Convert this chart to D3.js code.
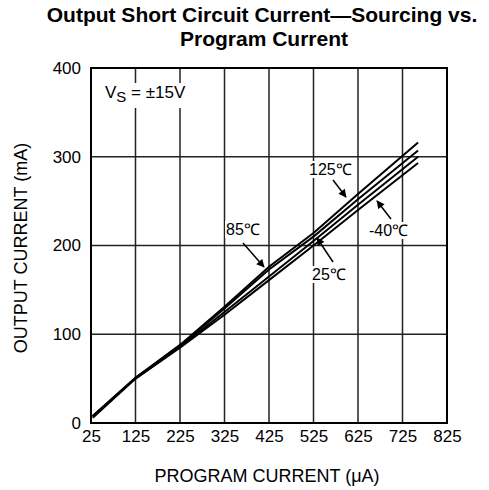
<!DOCTYPE html>
<html>
<head>
<meta charset="utf-8">
<script src="https://cdn.jsdelivr.net/npm/d3@7"></script>
<style>
  body { margin: 0; background: #fff; }
  svg { font-family: "Liberation Sans", Arial, sans-serif; }
</style>
</head>
<body>
<svg width="489" height="490"></svg>
<script>
// Output short circuit current vs program current

var programCurrent = [29, 125, 225, 325, 425, 525, 625, 760]
var cur125 = [8, 51, 88, 131, 176, 214, 258, 316]
var cur85 = [8, 51, 87, 129, 173, 210, 252, 307]
var cur25 = [7, 50, 86, 125, 165, 205, 246, 300]
var curM40 = [6, 50, 85, 122, 161, 200, 240, 293]

var xTicks = [25, 125, 225, 325, 425, 525, 625, 725, 825]
var yTicks = [0, 100, 200, 300, 400]

var series = [cur125, cur85, cur25, curM40]

var svg = d3.select('svg')
var plotL = 91, plotR = 447, plotT = 68, plotB = 423

var x = d3.scaleLinear().domain([25, 825]).range([plotL, plotR])
var y = d3.scaleLinear().domain([0, 400]).range([plotB, plotT])

// title, two lines
svg.append('text')
	.attr('x', 262)
	.attr('y', 22)
	.attr('text-anchor', 'middle')
	.attr('font-weight', 'bold')
	.attr('font-size', 21)
	.text('Output Short Circuit Current\u2014Sourcing vs.')
svg.append('text')
	.attr('x', 264)
	.attr('y', 46)
	.attr('text-anchor', 'middle')
	.attr('font-weight', 'bold')
	.attr('font-size', 21)
	.text('Program Current')

// grid
var grid = svg.append('g')
grid.selectAll('.vx')
	.data(xTicks)
	.enter()
	.append('line')
	.attr('x1', function(d) { return x(d) })
	.attr('x2', function(d) { return x(d) })
	.attr('y1', plotT)
	.attr('y2', plotB)
	.attr('stroke', '#222')
	.attr('stroke-width', 1.5)
grid.selectAll('.hy')
	.data(yTicks)
	.enter()
	.append('line')
	.attr('x1', plotL)
	.attr('x2', plotR)
	.attr('y1', function(d) { return y(d) })
	.attr('y2', function(d) { return y(d) })
	.attr('stroke', '#222')
	.attr('stroke-width', 1.5)

// axes (labels only)
var xAxis = d3.axisBottom(x).tickValues(xTicks).tickSize(0).tickPadding(7)
svg.append('g')
	.attr('transform', 'translate(0,' + plotB + ')')
	.call(xAxis)
	.call(function(g) { g.select('.domain').remove() })
	.selectAll('text')
	.attr('font-size', 17)
	.attr('font-family', '"Liberation Sans", Arial, sans-serif')
	.attr('fill', '#000')

var yAxis = d3.axisLeft(y).tickValues(yTicks).tickSize(0).tickPadding(10)
svg.append('g')
	.attr('transform', 'translate(' + plotL + ',0)')
	.call(yAxis)
	.call(function(g) { g.select('.domain').remove() })
	.selectAll('text')
	.attr('font-size', 17)
	.attr('font-family', '"Liberation Sans", Arial, sans-serif')
	.attr('fill', '#000')

// axis titles
svg.append('text')
	.attr('x', 267)
	.attr('y', 482)
	.attr('text-anchor', 'middle')
	.attr('font-size', 18)
	.text('PROGRAM CURRENT (\u03bcA)')

svg.append('text')
	.attr('transform', 'translate(27,248) rotate(-90)')
	.attr('text-anchor', 'middle')
	.attr('font-size', 18)
	.text('OUTPUT CURRENT (mA)')

// curves
var line = d3.line()
	.x(function(d, i) { return x(programCurrent[i]) })
	.y(function(d) { return y(d) })

svg.append('g')
	.selectAll('path')
	.data(series)
	.enter()
	.append('path')
	.attr('d', line)
	.attr('fill', 'none')
	.attr('stroke', '#000')
	.attr('stroke-width', 2)

// frame
svg.append('rect')
	.attr('x', plotL)
	.attr('y', plotT)
	.attr('width', plotR - plotL)
	.attr('height', plotB - plotT)
	.attr('fill', 'none')
	.attr('stroke', '#000')
	.attr('stroke-width', 2)

// labels with arrows
var labels = [
	{text: '125\u2103', x: 309, y: 175, ax1: 333, ay1: 180, ax2: 346, ay2: 197},
	{text: '85\u2103', x: 226, y: 235, ax1: 243, ay1: 243, ax2: 264, ay2: 267},
	{text: '25\u2103', x: 312, y: 280, ax1: 333, ay1: 262, ax2: 317, ay2: 238},
	{text: '-40\u2103', x: 369, y: 236, ax1: 391, ay1: 219, ax2: 377, ay2: 201}
]

svg.append('defs').append('marker')
	.attr('id', 'arrow')
	.attr('viewBox', '0 0 10 10')
	.attr('refX', 9)
	.attr('refY', 5)
	.attr('markerWidth', 9)
	.attr('markerHeight', 8)
	.attr('markerUnits', 'userSpaceOnUse')
	.attr('orient', 'auto')
	.append('path')
	.attr('d', 'M0,0 L10,5 L0,10 z')
	.attr('fill', '#000')

var lab = svg.append('g').selectAll('g')
	.data(labels)
	.enter()
	.append('g')

lab.append('line')
	.attr('x1', function(d) { return d.ax1 })
	.attr('y1', function(d) { return d.ay1 })
	.attr('x2', function(d) { return d.ax2 })
	.attr('y2', function(d) { return d.ay2 })
	.attr('stroke', '#000')
	.attr('stroke-width', 1.5)
	.attr('marker-end', 'url(#arrow)')

lab.append('text')
	.attr('x', function(d) { return d.x })
	.attr('y', function(d) { return d.y })
	.attr('font-size', 16)
	.text(function(d) { return d.text })
	.each(function(d) {
		var b = this.getBBox()
		d3.select(this.parentNode).insert('rect', 'text')
			.attr('x', b.x - 1)
			.attr('y', b.y)
			.attr('width', b.width + 2)
			.attr('height', b.height)
			.attr('fill', '#fff')
	})

// supply label
var vsG = svg.append('g')
var vs = vsG.append('text')
	.attr('x', 105)
	.attr('y', 98)
	.attr('font-size', 17)
	.attr('fill', '#000')
vs.append('tspan').text('V')
vs.append('tspan').attr('dy', 4).attr('font-size', 15).text('S')
vs.append('tspan').attr('dy', -4).text(' = \u00b115V')
var vb = vs.node().getBBox()
vsG.insert('rect', 'text')
	.attr('x', vb.x - 2)
	.attr('y', vb.y)
	.attr('width', vb.width + 4)
	.attr('height', vb.height + 3)
	.attr('fill', '#fff')
</script>
</body>
</html>
